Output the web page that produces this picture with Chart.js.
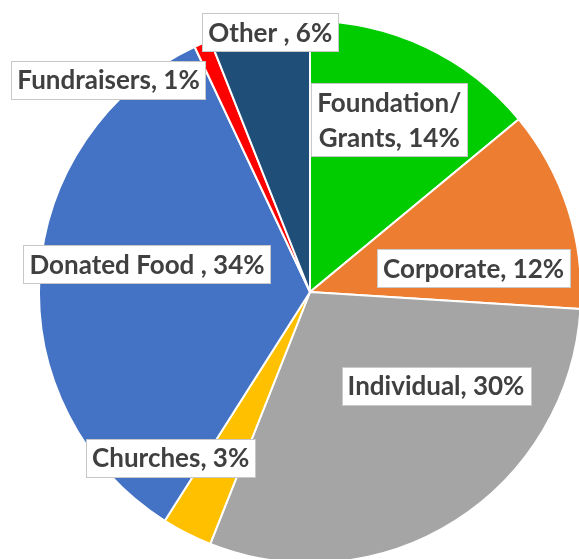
<!DOCTYPE html>
<html>
<head>
<meta charset="utf-8">
<script src="https://cdn.jsdelivr.net/npm/chart.js@4.4.1/dist/chart.umd.min.js"></script>
<style>
  html, body { margin:0; padding:0; background:#fff; overflow:hidden; }
  body { width:579px; height:559px; position:relative; }
  #wrap { position:absolute; left:0; top:0; width:620px; height:584px; }
</style>
</head>
<body>
<div id="wrap"><canvas id="pie"></canvas></div>
<script>
// ---------- DATA ----------
const categories = ["Foundation/ Grants", "Corporate", "Individual", "Churches", "Donated Food", "Fundraisers", "Other"];
const labelText = [["Foundation/", "Grants, 14%"], ["Corporate, 12%"], ["Individual, 30%"], ["Churches, 3%"], ["Donated Food , 34%"], ["Fundraisers, 1%"], ["Other , 6%"]];
const shares = [14, 12, 30, 3, 34, 1, 6];
const sliceColors = ["#00CC00", "#ED7D31", "#A5A5A5", "#FFC000", "#4472C4", "#FF0000", "#1F4E79"];

// where each label box sits: [angle in degrees from 12 o'clock, fraction of radius]
const labelSpots = [[24.7, 0.70], [81.7, 0.61], [126.7, 0.58], [220, 0.80], [279.6, 0.61], [316.5, 1.08], [351.3, 0.97]];

// ---------- LABEL BOXES ----------
const boxLabels = {
  id: "boxLabels",
  afterDatasetsDraw(chart){
    const ctx = chart.ctx;
    const arc = chart.getDatasetMeta(0).data[0];
    const cx = arc.x, cy = arc.y, r = arc.outerRadius;
    ctx.save();
    ctx.font = "bold 26px Lato";
    ctx.textAlign = "center";
    ctx.textBaseline = "middle";
    const lineH = 35;
    labelText.forEach((lines, i)=>{
      const a = labelSpots[i][0] * Math.PI / 180;
      let x = cx + Math.sin(a) * r * labelSpots[i][1];
      const y = cy - Math.cos(a) * r * labelSpots[i][1];
      const w = Math.max(...lines.map(t=>ctx.measureText(t).width)) + 12;
      const h = lines.length * lineH + 3;
      if (x - w/2 < 8) x = 8 + w/2;
      ctx.fillStyle = "#fff";
      ctx.strokeStyle = "#C8C8C8";
      ctx.lineWidth = 1;
      ctx.fillRect(Math.round(x - w/2), Math.round(y - h/2), Math.round(w), Math.round(h));
      ctx.strokeRect(Math.round(x - w/2) + 0.5, Math.round(y - h/2) + 0.5, Math.round(w), Math.round(h));
      ctx.fillStyle = "#404040";
      lines.forEach((t, k)=>{
        ctx.fillText(t, x, y + (k - (lines.length - 1) / 2) * lineH + 1);
      });
    });
    ctx.restore();
  }
};

new Chart(document.getElementById("pie"), {
  type: "pie",
  data: {
    labels: categories,
    datasets: [{
      data: shares,
      backgroundColor: sliceColors,
      borderColor: "#fff",
      borderWidth: 2
    }]
  },
  options: {
    responsive: true,
    maintainAspectRatio: false,
    animation: false,
    layout: { padding: { left: 38, top: 20, right: 38, bottom: 20 } },
    plugins: { legend: { display: false }, tooltip: { enabled: false } }
  },
  plugins: [boxLabels]
});
</script>
</body>
</html>
